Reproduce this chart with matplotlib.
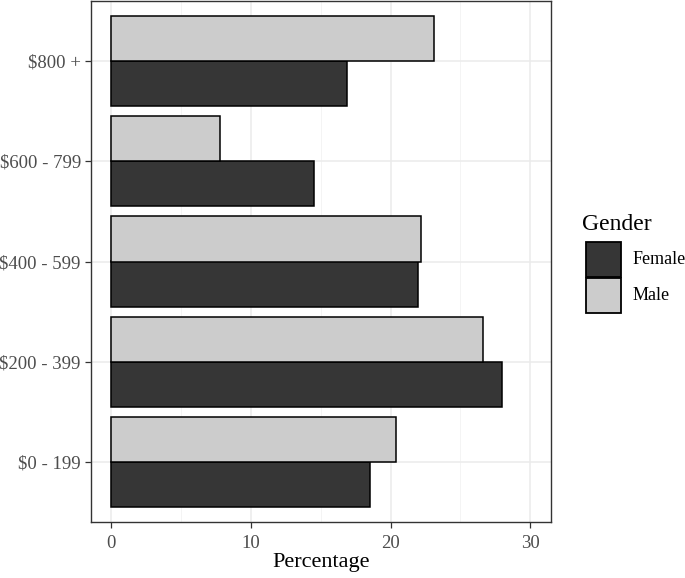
"""Horizontal dodged bar chart of spending bands by gender."""

from matplotlib import pyplot as plt
from matplotlib.patches import Rectangle
import numpy as np

categories = ["$0 - 199", "$200 - 399", "$400 - 599", "$600 - 799", "$800 +"]
female = [18.5, 28.0, 22.0, 14.5, 16.9]
male = [20.4, 26.6, 22.2, 7.8, 23.1]
x_ticks = [0, 10, 20, 30]

plt.rcParams["font.family"] = ["Liberation Serif", "DejaVu Serif"]

fig = plt.figure(figsize=(6.85, 5.78), dpi=100)
W, H = 685, 578
ax = fig.add_axes([90.5 / W, (H - 522) / H, (551 - 90.5) / W, (522 - 1) / H])

y = np.arange(1, len(categories) + 1)
h = 0.45
female_col = "#363636"
male_col = "#CCCCCC"

ax.barh(y - h / 2, female, height=h, color=female_col, edgecolor="black",
        linewidth=1.1, zorder=3)
ax.barh(y + h / 2, male, height=h, color=male_col, edgecolor="black",
        linewidth=1.1, zorder=3)

ax.set_xlim(-1.5, 31.5)
ax.set_ylim(0.4, 5.6)
ax.set_xticks(x_ticks)
ax.set_xticks([5, 15, 25], minor=True)
ax.set_yticks(y)
ax.set_yticklabels(categories)

ax.grid(which="major", color="#EBEBEB", linewidth=1.1, zorder=0)
ax.grid(which="minor", axis="x", color="#F3F3F3", linewidth=0.6, zorder=0)
ax.tick_params(which="major", length=4, width=0.9, color="#333333",
               labelsize=13.5, labelcolor="#4D4D4D")
ax.tick_params(axis="x", pad=5)
ax.tick_params(axis="y", pad=3)
ax.tick_params(which="minor", length=0)
for s in ax.spines.values():
    s.set_color("#333333")
    s.set_linewidth(1.0)

ax.set_xlabel("Percentage", fontsize=16, labelpad=1)

# legend drawn by hand in pixel coords
fig.text(582 / W, 1 - 230 / H, "Gender", fontsize=17, va="baseline")
for i, (lab, col) in enumerate([("Female", female_col), ("Male", male_col)]):
    top = 242 + i * 36
    fig.patches.append(Rectangle((586 / W, 1 - (top + 35) / H), 35 / W, 35 / H,
                                 transform=fig.transFigure, facecolor=col,
                                 edgecolor="black", linewidth=1.3))
    fig.text(633 / W, 1 - (top + 17.5) / H, lab, fontsize=13, va="center")

fig.savefig("out.png", dpi=100)
